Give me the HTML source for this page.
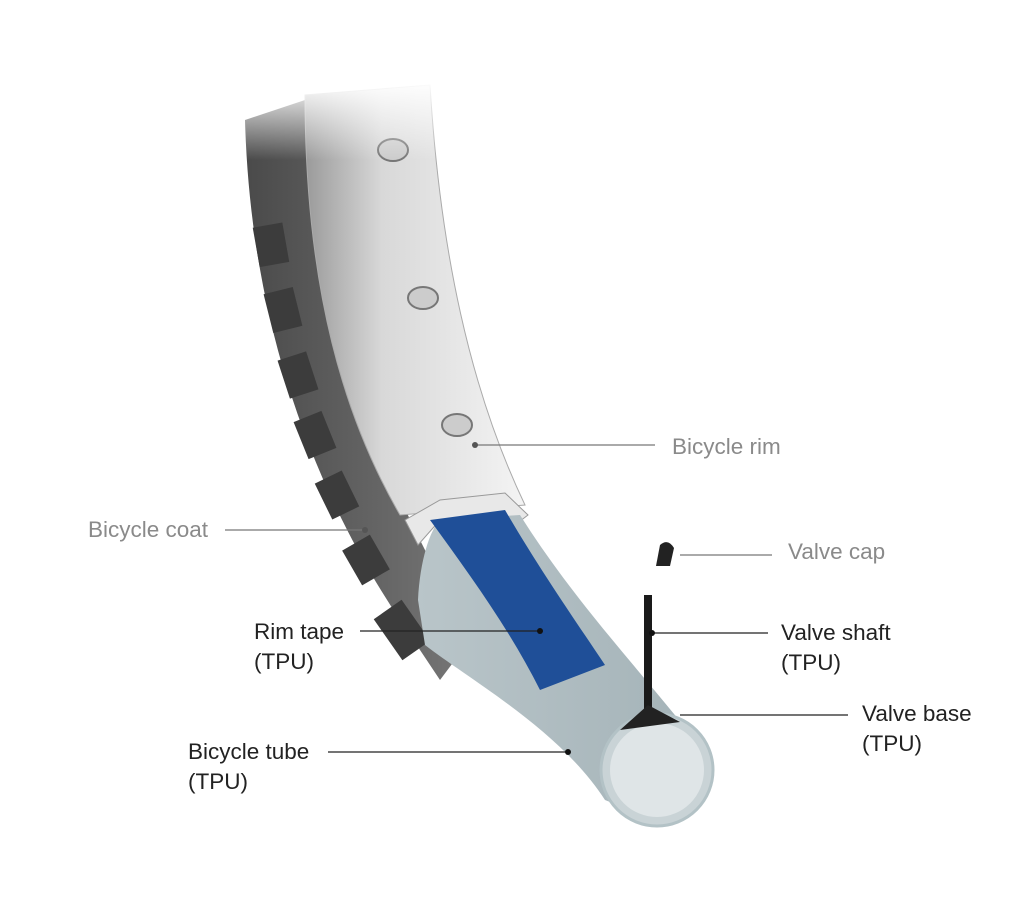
<!DOCTYPE html>
<html><head><meta charset="utf-8"><style>
html,body{margin:0;padding:0;background:#fff}
.w{position:relative;width:1024px;height:917px;overflow:hidden;font-family:"Liberation Sans",sans-serif}
.t{position:absolute;font-size:22.5px;line-height:30px}
.g{color:#8a8a8a}.k{color:#222}
</style></head><body><div class="w">
<svg width="1024" height="917" style="position:absolute;left:0;top:0">
<defs>
<linearGradient id="rim" x1="0" x2="1" y1="0" y2="0">
<stop offset="0" stop-color="#9a9a9a"/><stop offset="0.35" stop-color="#d8d8d8"/><stop offset="1" stop-color="#f4f4f4"/></linearGradient>
<linearGradient id="fade" x1="0" x2="0" y1="0" y2="1">
<stop offset="0" stop-color="#fff" stop-opacity="1"/><stop offset="1" stop-color="#fff" stop-opacity="0"/></linearGradient>
<linearGradient id="tire" x1="0" x2="1"><stop offset="0" stop-color="#4a4a4a"/><stop offset="1" stop-color="#777"/></linearGradient>
<linearGradient id="tube" x1="0" x2="1" y1="0" y2="0"><stop offset="0" stop-color="#b9c5c9"/><stop offset="1" stop-color="#a3b2b7"/></linearGradient>
</defs>
<!-- tire -->
<path d="M245,120 C250,300 300,470 400,620 L440,680 L470,640 L420,540 C360,420 315,280 305,100 Z" fill="url(#tire)"/>
<g fill="#3c3c3c">
<rect x="256" y="225" width="30" height="40" transform="rotate(-10 270 245)"/>
<rect x="268" y="290" width="30" height="40" transform="rotate(-14 283 310)"/>
<rect x="283" y="355" width="30" height="40" transform="rotate(-18 298 375)"/>
<rect x="300" y="415" width="30" height="40" transform="rotate(-22 315 435)"/>
<rect x="322" y="475" width="30" height="40" transform="rotate(-26 337 495)"/>
<rect x="350" y="540" width="32" height="40" transform="rotate(-30 366 560)"/>
<rect x="385" y="605" width="34" height="50" transform="rotate(-35 402 630)"/>
</g>
<!-- rim -->
<path d="M305,95 C305,290 345,420 400,515 L525,505 C470,390 440,250 430,85 Z" fill="url(#rim)" stroke="#aaa" stroke-width="1"/>
<path d="M405,520 L440,500 L505,493 L528,515 L515,525 L440,520 L418,545 Z" fill="#e8e8e8" stroke="#999"/>
<g fill="#ccc" stroke="#777" stroke-width="2">
<ellipse cx="393" cy="150" rx="15" ry="11"/><ellipse cx="423" cy="298" rx="15" ry="11"/><ellipse cx="457" cy="425" rx="15" ry="11"/></g>
<rect x="230" y="80" width="240" height="80" fill="url(#fade)"/>
<!-- tube -->
<path d="M418,600 C420,560 430,530 440,520 L520,515 C580,610 650,680 712,762 C690,800 640,815 605,800 C560,730 470,680 425,645 Z" fill="url(#tube)"/>
<path d="M430,520 L505,510 C540,570 575,620 605,665 L540,690 C510,630 470,575 430,520 Z" fill="#1f4f98"/>
<circle cx="657" cy="770" r="56" fill="#c9d3d6" stroke="#b3c2c6" stroke-width="3"/>
<circle cx="657" cy="770" r="47" fill="#dfe5e7"/>
<!-- valve -->
<line x1="648" y1="595" x2="648" y2="712" stroke="#1a1a1a" stroke-width="8"/>
<path d="M620,730 L648,705 L680,722 Z" fill="#222"/>
<path d="M656,566 L660,545 Q668,538 674,548 L670,566 Z" fill="#222"/>
<!-- leader lines -->
<g stroke="#777" stroke-width="1.3">
<line x1="475" y1="445" x2="655" y2="445"/>
<line x1="225" y1="530" x2="365" y2="530"/>
<line x1="680" y1="555" x2="772" y2="555"/>
</g>
<g stroke="#222" stroke-width="1.3">
<line x1="360" y1="631" x2="540" y2="631"/>
<line x1="652" y1="633" x2="768" y2="633"/>
<line x1="680" y1="715" x2="848" y2="715"/>
<line x1="328" y1="752" x2="568" y2="752"/>
</g>
<g fill="#555"><circle cx="475" cy="445" r="3"/><circle cx="365" cy="530" r="3"/></g>
<g fill="#111"><circle cx="540" cy="631" r="3"/><circle cx="568" cy="752" r="3"/><circle cx="652" cy="633" r="3"/></g>
</svg>
<div class="t g" style="left:672px;top:432px">Bicycle rim</div>
<div class="t g" style="left:88px;top:515px">Bicycle coat</div>
<div class="t g" style="left:788px;top:537px">Valve cap</div>
<div class="t k" style="left:254px;top:617px">Rim tape<br>(TPU)</div>
<div class="t k" style="left:781px;top:618px">Valve shaft<br>(TPU)</div>
<div class="t k" style="left:862px;top:699px">Valve base<br>(TPU)</div>
<div class="t k" style="left:188px;top:737px">Bicycle tube<br>(TPU)</div>
</div></body></html>
